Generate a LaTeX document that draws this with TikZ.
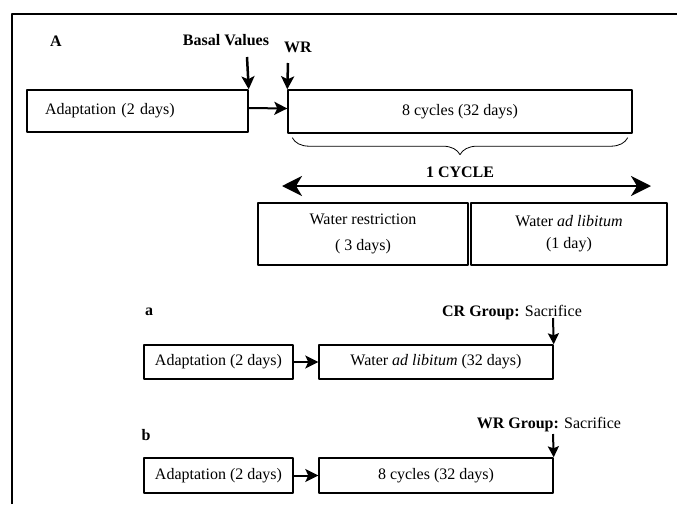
\documentclass[tikz,border=0pt]{standalone}
\usepackage{fontspec}
\setmainfont{Liberation Serif}
\usetikzlibrary{arrows.meta,decorations.pathreplacing}
\begin{document}
\begin{tikzpicture}[x=1pt,y=-1pt,line join=round,>={Stealth[length=13pt,width=13pt,inset=3pt]},thick]
	\tikzset{every node/.style={font=\fontsize{16}{19}\selectfont},
		box/.style={draw,rectangle,line width=1.4pt,inner sep=0pt},
		lbl/.style={font=\fontsize{16}{19}\selectfont\bfseries},
		conn/.style={->,line width=2pt}}
	\useasboundingbox (0,0) rectangle (677,504);
	% frame
	\draw[line width=1.2pt] (12,504)--(12,14)--(677,14);
	% A
	\node[lbl] (labA) at (56,41) {A};
	\node[lbl] (basal) at (226,40) {Basal Values};
	\node[lbl] (wr) at (298,47) {WR};
	\node[box,text width=185pt,inner xsep=18pt,minimum height=42pt,align=left] (adapt) at (137.5,111) {Adaptation (2 days)};
	\node[box,minimum width=344pt,minimum height=43pt] (cycles) at (460,111.5) {8 cycles (32 days)};
	\coordinate (basaltop) at (247,57);
	\coordinate (wrtop) at (288,63);
	\draw[conn,line width=2.5pt] (basaltop) -- (adapt.north east);
	\draw[conn,line width=2.5pt] (wrtop) -- (cycles.north west);
	\draw[conn] ([yshift=3pt]adapt.east) -- ([yshift=3pt]cycles.west);
	\draw[decorate,decoration={brace,mirror,amplitude=17pt},line width=0.8pt]
		([xshift=5pt,yshift=-4pt]cycles.south west) -- ([xshift=-5pt,yshift=-4pt]cycles.south east);
	\node[lbl] (onecyc) at (460,172) {1 CYCLE};
	\coordinate (cycL) at (282,186);
	\coordinate (cycR) at (651,186);
	\draw[<->,line width=2.5pt,>={Stealth[length=20pt,width=20pt,inset=6pt]}] (cycL) -- (cycR);
	\node[box,minimum width=210pt,minimum height=62pt,align=center] (restr) at (363,234) {Water restriction\\[7pt]( 3 days)};
	\node[box,minimum width=196pt,minimum height=62pt,align=center] (adlib) at (569,234) {Water \textit{ad libitum}\\[3pt](1 day)};
	% a
	\node[lbl] (laba) at (149,312) {a};
	\node[box,minimum width=149pt,minimum height=34pt] (adapta) at (218.5,362) {Adaptation (2 days)};
	\node[box,minimum width=234pt,minimum height=34pt] (adliba) at (436,362) {Water \textit{ad libitum} (32 days)};
	\draw[conn] (adapta) -- (adliba);
	\node (cra) at (512,313) {\textbf{CR Group:} Sacrifice};
	\coordinate (sacA) at (553,318);
	\draw[conn,>={Stealth[length=11pt,width=11pt,inset=2pt]}] (sacA) -- (adliba.north east);
	% b
	\node[lbl] (labb) at (146,435) {b};
	\node[box,minimum width=149pt,minimum height=35pt] (adaptb) at (218.5,475.5) {Adaptation (2 days)};
	\node[box,minimum width=234pt,minimum height=35pt] (cyclesb) at (436,475.5) {8 cycles (32 days)};
	\draw[conn] (adaptb) -- (cyclesb);
	\node (wrb) at (549,425) {\textbf{WR Group:} Sacrifice};
	\coordinate (sacB) at (553,434);
	\draw[conn,>={Stealth[length=11pt,width=11pt,inset=2pt]}] (sacB) -- (cyclesb.north east);
\end{tikzpicture}
\end{document}
